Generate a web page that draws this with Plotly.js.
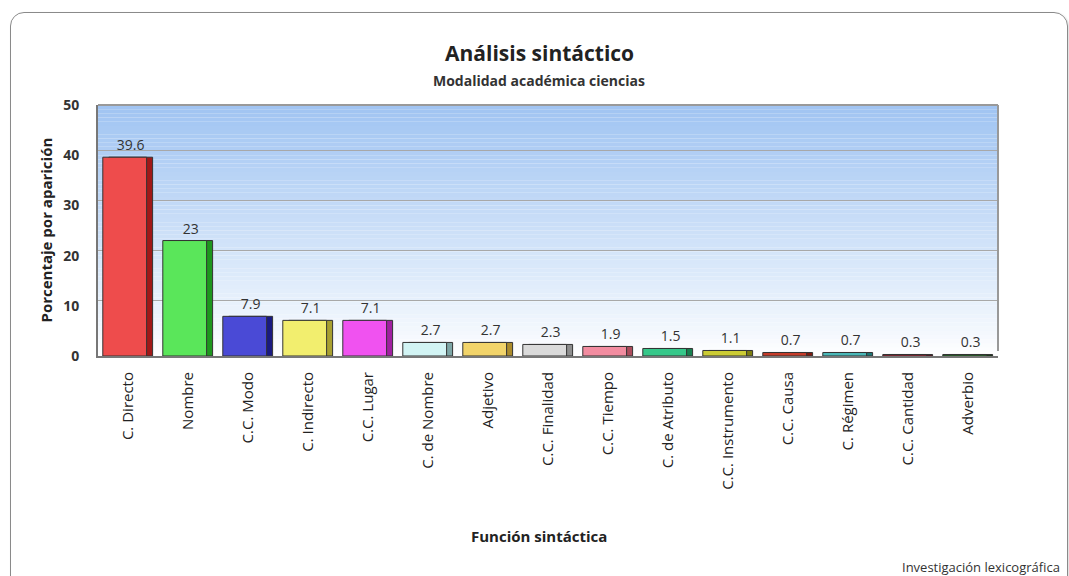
<!DOCTYPE html>
<html>
<head>
<meta charset="utf-8">
<script src="https://cdn.plot.ly/plotly-3.0.1.min.js"></script>
<style>
html,body{margin:0;padding:0;background:#fff;}
#wrap{position:relative;width:1069px;height:576px;overflow:hidden;}
#chart{position:absolute;left:0;top:0;width:1069px;height:576px;}
#frame{position:absolute;left:10px;top:12px;width:1056px;height:620px;border:1px solid #8a8a8a;border-radius:14px;pointer-events:none;box-shadow:1px 1px 2px rgba(0,0,0,0.15);}
</style>
</head>
<body>
<div id="wrap"><div id="chart"></div><div id="frame"></div></div>
<script>
// Data
const categories = ["C. Directo","Nombre","C.C. Modo","C. Indirecto","C.C. Lugar","C. de Nombre","Adjetivo","C.C. Finalidad","C.C. Tiempo","C. de Atributo","C.C. Instrumento","C.C. Causa","C. Régimen","C.C. Cantidad","Adverbio"];
const values = [39.6, 23, 7.9, 7.1, 7.1, 2.7, 2.7, 2.3, 1.9, 1.5, 1.1, 0.7, 0.7, 0.3, 0.3];
const yTicks = [0, 10, 20, 30, 40, 50];

// Styles
const frontColors = ['#ee4c4c','#5ae65a','#4a4ad6','#f2ee6e','#f052f0','#d2f4f4','#f2d46a','#dadada','#f28ca0','#36c88a','#cccc34','#c63c2a','#4ab8b8','#b81e30','#207a20'];
const sideColors  = ['#a01818','#1e961e','#1a1a80','#a8a030','#a020a0','#7ea6a6','#ac8c2c','#8e8e8e','#ac4c5c','#17804f','#7e7e10','#7e1a10','#1e7676','#6e0a18','#0a3e0a'];
const depth = 1.0; // vertical depth of 3D effect (axis units)

const font = "'Open Sans', 'DejaVu Sans', sans-serif";

// gradient background stripes
const bgShapes = [];
const N = 60;
const colTop = [160, 196, 242], colBot = [255, 255, 255];
for (let i = 0; i < N; i++) {
  const t = (i + 0.5) / N; // 0 bottom -> 1 top
  const c = colBot.map((b, k) => Math.round(b + (colTop[k] - b) * Math.pow(t, 0.9)));
  bgShapes.push({type:'rect', xref:'paper', yref:'paper', x0:0, x1:1, y0:i/N, y1:(i+1)/N,
    fillcolor:`rgb(${c[0]},${c[1]},${c[2]})`, line:{width:0}, layer:'below'});
}

// back / side block (drawn first, on the depth-shifted axis)
const back = {
  type:'bar', x:categories, y:values, base:-depth, yaxis:'y',
  width:0.73, offset:-0.32,
  marker:{color:sideColors, line:{color:'#333', width:1}},
  text:values.map(String), textposition:'outside', cliponaxis:false,
  textfont:{family:font, size:14, color:'#333'},
  hoverinfo:'skip', showlegend:false
};
// front face (drawn on top, on the overlaying axis)
const front = {
  type:'bar', x:categories, y:values, yaxis:'y2',
  width:0.73, offset:-0.42,
  marker:{color:frontColors, line:{color:'#333', width:1}},
  hoverinfo:'skip', showlegend:false
};

const layout = {
  width:1069, height:576,
  margin:{l:98, r:71, t:105, b:220},
  paper_bgcolor:'#ffffff', plot_bgcolor:'rgba(0,0,0,0)',
  barmode:'overlay',
  showlegend:false,
  font:{family:font, color:'#222'},
  xaxis:{type:'category', categoryorder:'array', categoryarray:categories,
    tickangle:-90, tickfont:{family:font, size:15, color:'#222'},
    showgrid:false, showline:true, linecolor:'#777', linewidth:2, ticks:'', ticklen:0,
    ticklabelstandoff:8, fixedrange:true},
  yaxis:{range:[-depth, 50-depth], tickvals:[10,20,30,40], showticklabels:false,
    showgrid:true, gridcolor:'#a8a8a8', gridwidth:1, zeroline:false, showline:false, fixedrange:true},
  yaxis2:{overlaying:'y', side:'left', range:[0,50], tickvals:yTicks, ticktext:yTicks.map(String),
    tickfont:{family:font, size:14, color:'#333', weight:'bold'}, ticklabelstandoff:14,
    showgrid:false, zeroline:false, showline:true, linecolor:'#777', linewidth:2, ticks:'', fixedrange:true},
  shapes: bgShapes.concat([
    {type:'line', xref:'paper', yref:'paper', x0:0, x1:1, y0:1, y1:1, line:{color:'#999', width:2}},
    {type:'line', xref:'paper', yref:'paper', x0:1, x1:1, y0:0.02, y1:1, line:{color:'#999', width:2}}
  ]),
  annotations:[
    {text:'<b>Análisis sintáctico</b>', xref:'paper', yref:'paper', x:0.49, y:1, yshift:68, showarrow:false,
      font:{family:font, size:21, color:'#222'}},
    {text:'<b>Modalidad académica ciencias</b>', xref:'paper', yref:'paper', x:0.49, y:1, yshift:36, showarrow:false,
      font:{family:font, size:14, color:'#333'}},
    {text:'<b>Porcentaje por aparición</b>', xref:'paper', yref:'paper', x:0, xshift:-53, y:0.5, textangle:-90, showarrow:false,
      xanchor:'center', font:{family:font, size:15, color:'#222'}},
    {text:'<b>Función sintáctica</b>', xref:'paper', yref:'paper', x:0.49, y:0, yshift:-192, showarrow:false,
      font:{family:font, size:15, color:'#222'}},
    {text:'Investigación lexicográfica', xref:'paper', yref:'paper', x:1, xshift:64, xanchor:'right', y:0, yshift:-222, showarrow:false,
      font:{family:font, size:13, color:'#333'}}
  ]
};

Plotly.newPlot('chart', [back, front], layout, {displayModeBar:false, staticPlot:true});
</script>
</body>
</html>
